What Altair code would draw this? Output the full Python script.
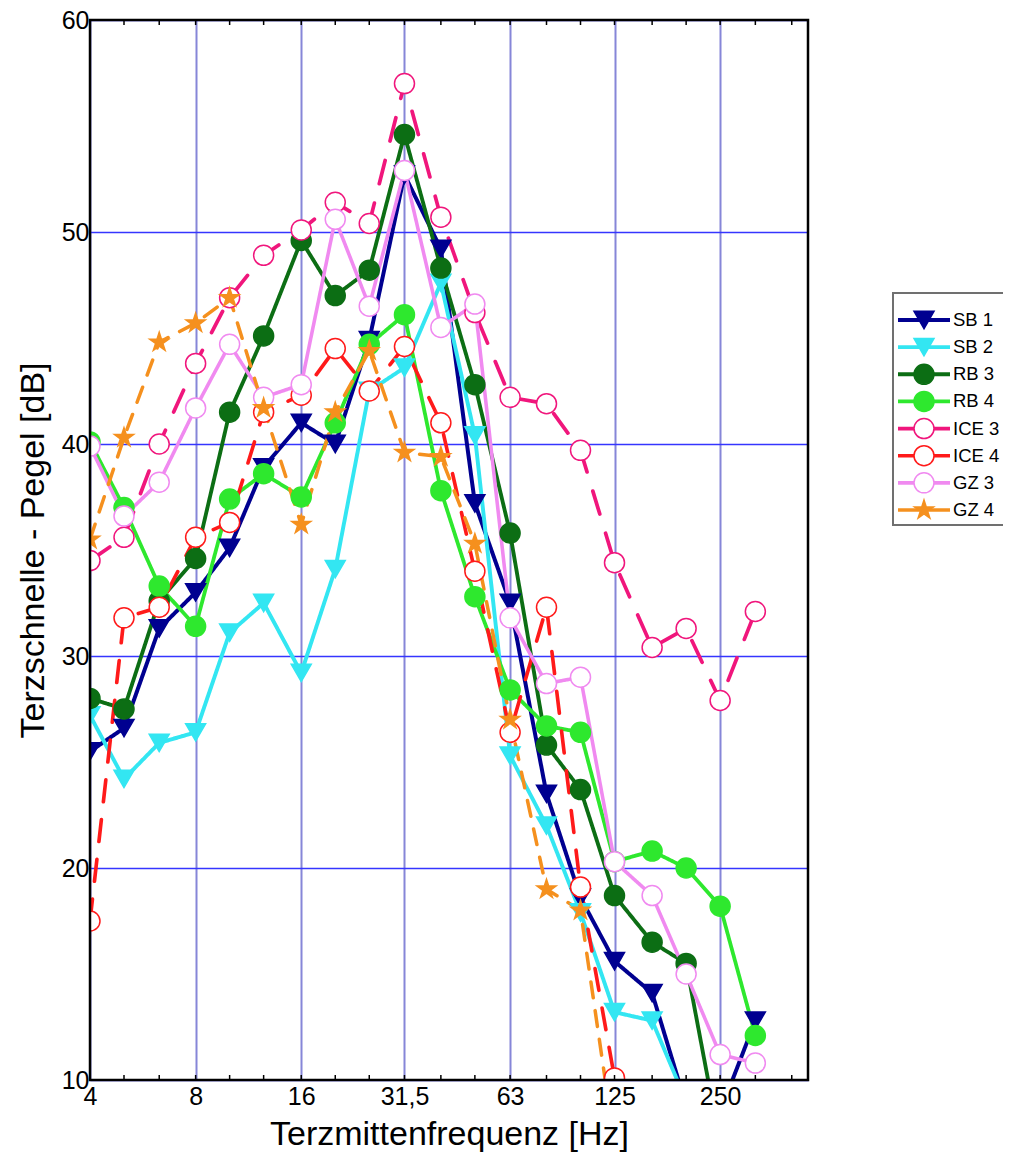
import altair as alt
import pandas as pd

# ---------------- data ----------------
bands = [4, 5, 6.3, 8, 10, 12.5, 16, 20, 25, 31.5, 40, 50, 63, 80, 100, 125, 160, 200, 250, 315]
minor_bands = [4, 5, 6.3, 8, 10, 12.5, 16, 20, 25, 31.5, 40, 50, 63, 80, 100, 125, 160, 200, 250, 315, 400]
tick_values = [4, 8, 16, 31.5, 63, 125, 250]
tick_labels = ["4", "8", "16", "31,5", "63", "125", "250"]
y_ticks = [10, 20, 30, 40, 50, 60]

series = ["SB 1", "SB 2", "RB 3", "RB 4", "ICE 3", "ICE 4", "GZ 3", "GZ 4"]

sb1 = [25.5, 26.6, 31.3, 33.0, 35.1, 38.9, 41.0, 40.0, 44.9, 52.7, 49.2, 37.2, 32.5, 23.5, 18.6, 15.6, 14.1, 8.8, 8.5, 12.8]
sb2 = [27.2, 24.2, 25.9, 26.4, 31.1, 32.5, 29.2, 34.1, 42.5, 43.6, 47.6, 40.4, 25.3, 22.0, 17.9, 13.2, 12.8, 9.0, None, None]
rb3 = [28.0, 27.5, 32.6, 34.6, 41.5, 45.1, 49.6, 47.0, 48.2, 54.6, 48.3, 42.8, 35.8, 25.8, 23.7, 18.7, 16.5, 15.5, 7.0, None]
rb4 = [40.1, 37.0, 33.3, 31.4, 37.4, 38.6, 37.5, 41.0, 44.7, 46.1, 37.8, 32.8, 28.4, 26.7, 26.4, 20.3, 20.8, 20.0, 18.2, 12.1]
ice3 = [34.5, 35.6, 40.0, 43.8, 46.9, 48.9, 50.1, 51.4, 50.4, 57.0, 50.7, 46.2, 42.2, 41.9, 39.7, 34.4, 30.4, 31.3, 27.9, 32.1]
ice4 = [17.5, 31.8, 32.3, 35.6, 36.3, 41.5, 42.3, 44.5, 42.5, 44.6, 41.0, 34.0, 26.4, 32.3, 19.1, 10.1, None, None, None, None]
gz3 = [39.9, 36.6, 38.2, 41.7, 44.7, 42.2, 42.8, 50.6, 46.5, 52.9, 45.5, 46.6, 31.8, 28.7, 29.0, 20.3, 18.7, 15.0, 11.2, 10.8]
gz4 = [35.5, 40.3, 44.8, 45.7, 46.9, 41.7, 36.2, 41.5, 44.4, 39.6, 39.4, 35.3, 27.0, 19.0, 18.0, 7.0, None, None, None, None]
values = [sb1, sb2, rb3, rb4, ice3, ice4, gz3, gz4]

# ---------------- styles ----------------
colors = ["#000090", "#33e6f2", "#0c6e14", "#2ee82e", "#f0167c", "#ff1a1a", "#f08af0", "#f5901e"]
fills = ["#000090", "#33e6f2", "#0c6e14", "#2ee82e", "white", "white", "white", "#f5901e"]
star = "M0,-1L0.2245,-0.309L0.951,-0.309L0.363,0.118L0.588,0.809L0,0.382L-0.588,0.809L-0.363,0.118L-0.951,-0.309L-0.2245,-0.309Z"
shapes = ["triangle-down", "triangle-down", "circle", "circle", "circle", "circle", "circle", star]
sizes = [400, 400, 230, 230, 170, 170, 170, 110]
widths = [4, 3.5, 4, 3.5, 6, 6, 3.5, 3.5]
dashes = [[1, 0], [1, 0], [1, 0], [1, 0], [24, 20], [22, 18], [1, 0], [16, 13]]

FONT = "Liberation Sans"
W, H = 718, 1060

rows = []
for name, vals in zip(series, values):
    for f, v in zip(bands, vals):
        if v is not None:
            rows.append({"series": name, "freq": f, "level": v})
df = pd.DataFrame(rows)

label_expr = ""
for v, l in zip(tick_values, tick_labels):
    label_expr += f"abs(datum.value - {v}) < 0.01 ? '{l}' : "
label_expr += "''"

x_scale = alt.Scale(type="log", domain=[4, 445], nice=False)
y_scale = alt.Scale(domain=[10, 60], nice=False, zero=False)

x_axis = alt.Axis(values=tick_values, labelExpr=label_expr, grid=True, gridColor="#8686d8",
                  gridWidth=2, ticks=False, domain=False, labelFontSize=25, labelFont=FONT,
                  labelColor="black", labelPadding=4, labelFlush=False, labelOverlap=False,
                  title="Terzmittenfrequenz [Hz]", titleFont=FONT, titleFontSize=34,
                  titleFontWeight="normal", titleColor="black", titlePadding=8)
y_axis = alt.Axis(values=y_ticks, grid=True, gridColor="#3535ff", gridWidth=1.5, ticks=False,
                  domain=False, labelFontSize=25, labelFont=FONT, labelColor="black",
                  labelPadding=1, labelFlush=False, labelOverlap=False,
                  title="Terzschnelle - Pegel [dB]", titleFont=FONT, titleFontSize=34,
                  titleFontWeight="normal", titleColor="black", titlePadding=11)

color = alt.Color("series:N", scale=alt.Scale(domain=series, range=colors), legend=None)
stroke_dash = alt.StrokeDash("series:N", scale=alt.Scale(domain=series, range=dashes), legend=None)
stroke_w = alt.StrokeWidth("series:O", scale=alt.Scale(domain=series, range=widths), legend=None)
shape = alt.Shape("series:N", scale=alt.Scale(domain=series, range=shapes), legend=None)
fill = alt.Fill("series:N", scale=alt.Scale(domain=series, range=fills), legend=None)
stroke = alt.Stroke("series:N", scale=alt.Scale(domain=series, range=colors), legend=None)
size = alt.Size("series:O", scale=alt.Scale(domain=series, range=sizes), legend=None)

lines = alt.Chart(df).mark_line(clip=True, strokeCap="round", strokeJoin="round").encode(
    x=alt.X("freq:Q", scale=x_scale, axis=x_axis),
    y=alt.Y("level:Q", scale=y_scale, axis=y_axis),
    color=color,
    strokeDash=stroke_dash,
    strokeWidth=stroke_w,
    order=alt.Order("freq:Q"),
)

points = alt.Chart(df).mark_point(clip=True, filled=True, strokeWidth=1.5, opacity=1).encode(
    x=alt.X("freq:Q"),
    y=alt.Y("level:Q"),
    shape=shape, fill=fill, stroke=stroke, size=size,
)

ticks_df = pd.DataFrame({"freq": minor_bands})
minor_bottom = alt.Chart(ticks_df).mark_rule(color="black", strokeWidth=1.5).encode(
    x=alt.X("freq:Q"), y=alt.value(H - 5), y2=alt.value(H))
minor_top = alt.Chart(ticks_df).mark_rule(color="black", strokeWidth=1.5).encode(
    x=alt.X("freq:Q"), y=alt.value(0), y2=alt.value(5))

frame = alt.Chart(alt.Data(values=[{"a": 1}])).mark_rect(
    filled=False, stroke="black", strokeWidth=2.5).encode(
    x=alt.value(0), x2=alt.value(W), y=alt.value(0), y2=alt.value(H))

main = alt.layer(lines, points, minor_bottom, minor_top, frame)

# ---------------- legend (drawn) ----------------
leg_df = pd.DataFrame({"series": series})
leg_y = alt.Y("series:N", scale=alt.Scale(type="point", domain=series, range=[300, 490], padding=0),
              axis=None)

leg_box = alt.Chart(alt.Data(values=[{"a": 1}])).mark_rect(
    fill="white", stroke="#707070", strokeWidth=2).encode(
    x=alt.value(803), x2=alt.value(960), y=alt.value(273), y2=alt.value(505))
leg_lines = alt.Chart(leg_df).mark_rule().encode(
    x=alt.value(808), x2=alt.value(860), y=leg_y, color=color, strokeWidth=stroke_w)
leg_pts = alt.Chart(leg_df).mark_point(filled=True, strokeWidth=1.5, opacity=1).encode(
    x=alt.value(834), y=leg_y, shape=shape, fill=fill, stroke=stroke, size=size)
leg_text = alt.Chart(leg_df).mark_text(align="left", baseline="middle", fontSize=18.5,
                                       font=FONT, color="black").encode(
    x=alt.value(863), y=leg_y, text="series:N")

legend = alt.layer(leg_box, leg_lines, leg_pts, leg_text)

chart = alt.layer(main, legend).resolve_scale(y="independent").properties(
    width=W, height=H,
    autosize=alt.AutoSizeParams(type="none"),
    padding={"left": 82, "top": 12, "right": 195, "bottom": 74},
).configure_view(stroke=None).configure(font=FONT, background="white")

chart.save("out.html", embed_options={"renderer": "svg", "actions": False})
